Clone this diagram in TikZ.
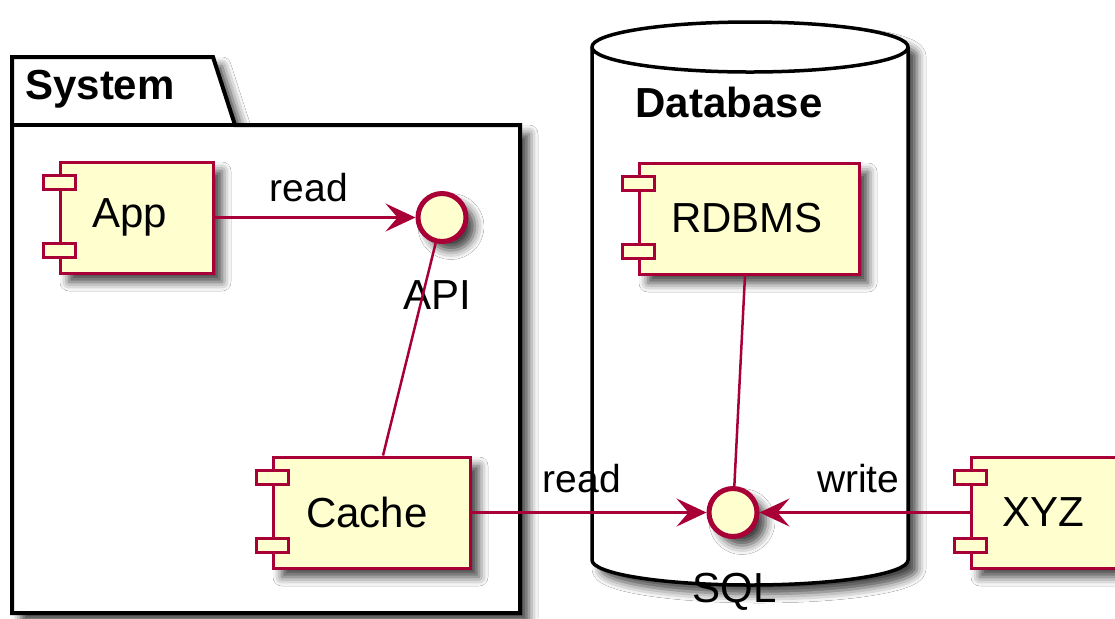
\documentclass[tikz,border=0pt]{standalone}
\usepackage{fontspec}
\setmainfont{Liberation Sans}
\usetikzlibrary{arrows.meta,shadows.blur}
\definecolor{umlred}{HTML}{A80036}
\definecolor{umlfill}{HTML}{FEFECE}
\tikzset{
  umlshadow/.style={blur shadow={shadow xshift=4.5pt,shadow yshift=-4.5pt,shadow blur radius=4.5pt,shadow opacity=75}},
  comp/.style={draw=umlred,fill=umlfill,line width=1.5pt,minimum height=55.5pt,inner sep=0pt,
    font=\fontsize{21}{25}\selectfont,umlshadow},
  tabbox/.style={draw=umlred,fill=umlfill,line width=1.5pt},
  iface/.style={circle,draw=umlred,fill=umlfill,line width=2.5pt,minimum size=24pt,inner sep=0pt,umlshadow},
  conn/.style={draw=umlred,line width=1.25pt},
  lbl/.style={inner sep=0pt,font=\fontsize{19.5}{23}\selectfont},
  ifname/.style={inner sep=0pt,font=\fontsize{21}{25}\selectfont},
  title/.style={inner sep=0pt,font=\fontsize{21}{25}\selectfont\bfseries},
  pkg/.style={draw=black,fill=white,line width=2pt,umlshadow},
  dbshape/.style={draw=black,fill=white,line width=1.75pt,umlshadow}
}
\begin{document}
\begin{tikzpicture}[x=0.5pt,y=-0.5pt,>={Stealth[length=15pt,width=14pt,inset=6pt]}]
\path[use as bounding box,fill=white] (0,0) rectangle (1115,618);
% package and database
\draw[pkg] (12,613) -- (12,57) -- (213,57) -- (235,125) -- (520,125) -- (520,613) -- cycle;
\draw[line width=2pt] (12,125) -- (235,125);
\node[title] (system) at (100,89) {System};
\draw[dbshape] (592,47) -- (592,560) arc[start angle=180,end angle=360,x radius=79pt,y radius=12.5pt]
  -- (908,47) arc[start angle=0,end angle=180,x radius=79pt,y radius=12.5pt] -- cycle;
\draw[line width=1.75pt] (592,47) arc[start angle=180,end angle=360,x radius=79pt,y radius=12.5pt];
\node[title] (database) at (729,102) {Database};
% components
\node[comp,minimum width=76.5pt] (app) at (136.5,217.5) {\hspace*{-7pt}App};
\node[comp,minimum width=98.5pt] (cache) at (371.5,512.5) {\hspace*{-4.5pt}Cache};
\node[comp,minimum width=110pt] (rdbms) at (749,218.5) {\hspace*{-2pt}RDBMS};
\node[comp,minimum width=72.5pt] (xyz) at (1043.5,512.5) {XYZ};
\foreach \c in {app,cache,rdbms,xyz} {
\draw[tabbox] ([shift={(-7.5pt,-7.5pt)}]\c.north west) rectangle ([shift={(8.5pt,-14.5pt)}]\c.north west);
\draw[tabbox] ([shift={(-7.5pt,8.5pt)}]\c.south west) rectangle ([shift={(8.5pt,15.5pt)}]\c.south west);
}
% interfaces
\node[iface] (api) at (442,217.5) {};
\node[iface] (sql) at (733,512.5) {};
\node[ifname] (apiname) at (437,295) {API};
\node[ifname] (sqlname) at (735,592) {SQL};
% links
\draw[conn,->] (app) -- node[lbl,above=7pt,pos=.47] (read1) {read} (api);
\draw[conn] (api) -- ([xshift=5.75pt]cache.north);
\draw[conn] ([xshift=-2pt]rdbms.south) -- (sql);
\draw[conn,->] (cache) -- node[lbl,above=9pt,pos=.47] (read2) {read} (sql);
\draw[conn,->] (xyz) -- node[lbl,above=9pt,pos=.53] (write) {write} (sql);
\end{tikzpicture}
\end{document}
